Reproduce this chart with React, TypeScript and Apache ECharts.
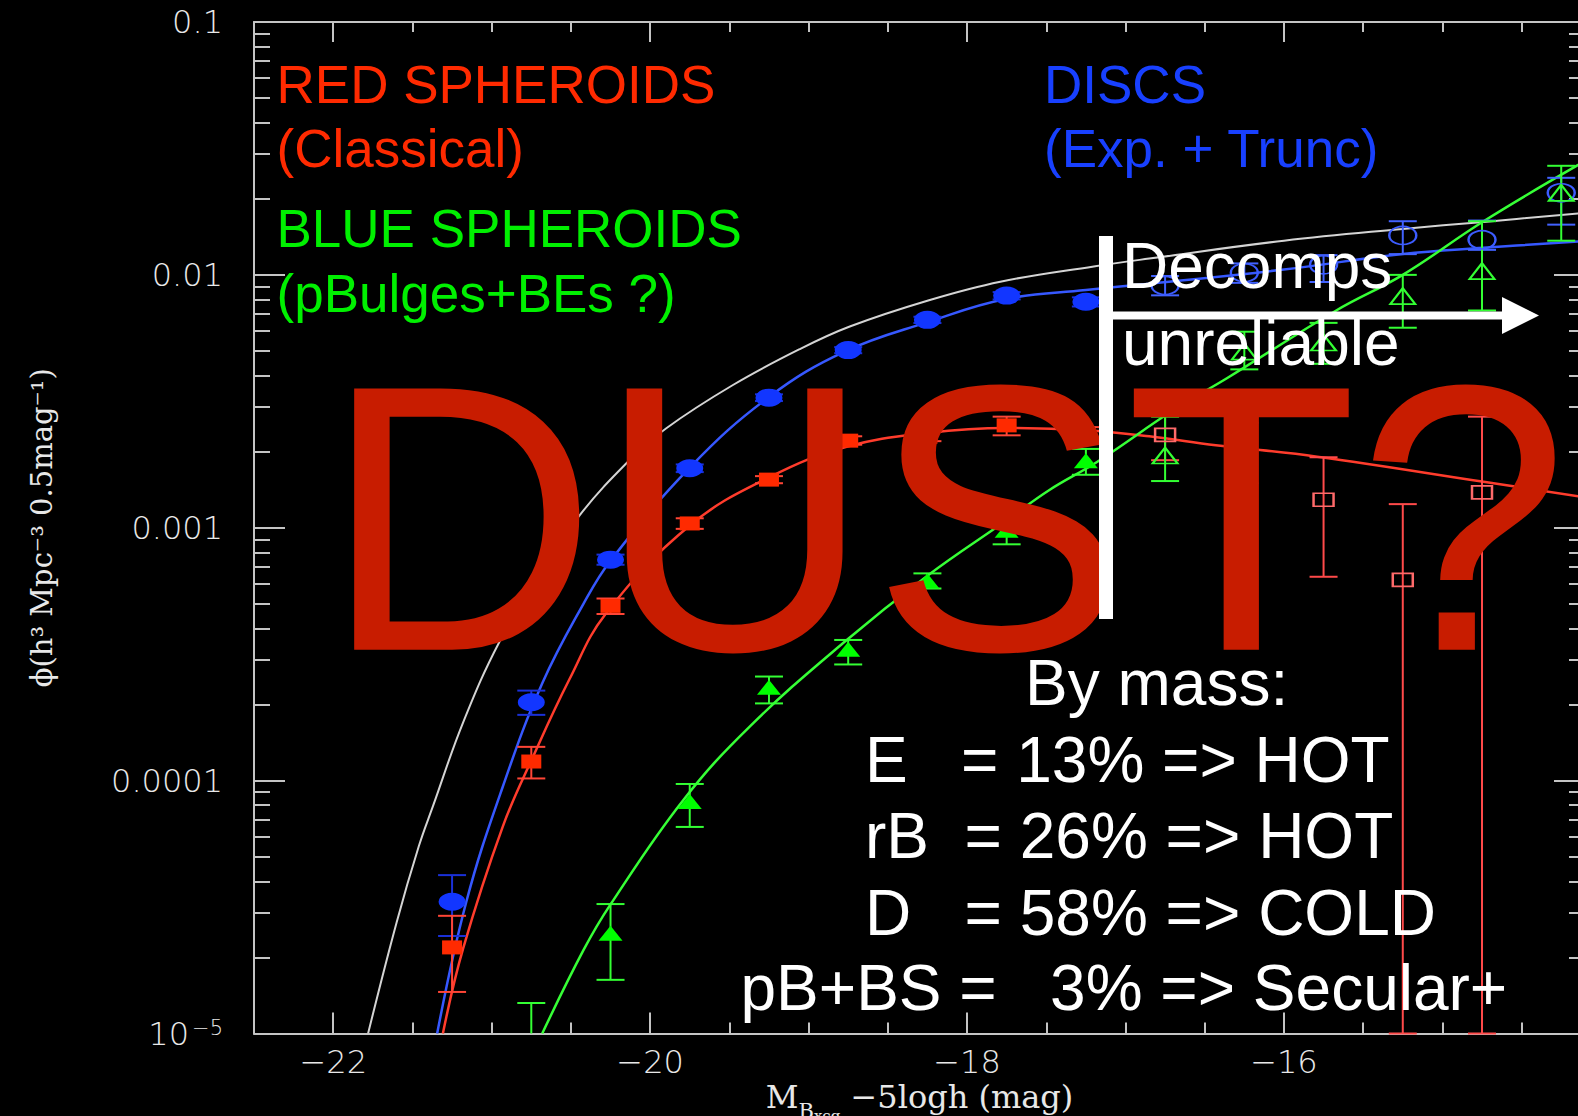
import React, { useEffect, useRef } from 'react';
import * as echarts from 'echarts';

// ---------- data ----------
const magBins = [-21.25, -20.75, -20.25, -19.75, -19.25, -18.75, -18.25, -17.75, -17.25, -16.75, -16.25, -15.75, -15.25, -14.75, -14.25];
const reliableCount = 9; // bins brighter than the "Decomps unreliable" limit

// DISCS (blue)
const discPhi = [3.32e-5, 2.04e-4, 7.48e-4, 1.72e-3, 3.27e-3, 5.04e-3, 6.64e-3, 8.28e-3, 7.83e-3, 9.08e-3, 1.02e-2, 1.096e-2, 1.432e-2, 1.377e-2, 2.11e-2];
const discLo = [2.43e-5, 1.82e-4, 7.14e-4, 1.66e-3, 3.17e-3, 4.9e-3, 6.45e-3, 8.0e-3, 7.5e-3, 8.3e-3, 9.3e-3, 9.37e-3, 1.208e-2, 1.256e-2, 1.58e-2];
const discHi = [4.23e-5, 2.27e-4, 7.83e-4, 1.78e-3, 3.37e-3, 5.18e-3, 6.83e-3, 8.55e-3, 8.15e-3, 9.9e-3, 1.11e-2, 1.197e-2, 1.63e-2, 1.64e-2, 2.42e-2];

// RED SPHEROIDS (classical)
const redPhi = [2.19e-5, 1.19e-4, 4.91e-4, 1.04e-3, 1.55e-3, 2.21e-3, 2.29e-3, 2.54e-3, 2.32e-3, 2.33e-3, 2.05e-3, 1.29e-3, 6.22e-4, 1.38e-3, null];
const redLo = [1.46e-5, 1.02e-4, 4.56e-4, 9.9e-4, 1.5e-3, 2.13e-3, 2.2e-3, 2.32e-3, 2.15e-3, 1.85e-3, 1.5e-3, 6.4e-4, 1e-5, 1e-5, null];
const redHi = [2.92e-5, 1.36e-4, 5.25e-4, 1.09e-3, 1.6e-3, 2.3e-3, 2.39e-3, 2.75e-3, 2.5e-3, 2.77e-3, 2.6e-3, 1.9e-3, 1.24e-3, 2.75e-3, null];

// BLUE SPHEROIDS (green)
const greenPhi = [null, 7e-6, 2.49e-5, 8.26e-5, 2.34e-4, 3.31e-4, 6.16e-4, 9.77e-4, 1.84e-3, 1.93e-3, 4.97e-3, 5.4e-3, 8.24e-3, 1.035e-2, 2.11e-2];
const greenLo = [null, 3e-6, 1.63e-5, 6.56e-5, 2.02e-4, 2.88e-4, 5.75e-4, 8.6e-4, 1.62e-3, 1.53e-3, 4.23e-3, 4.45e-3, 6.18e-3, 7.23e-3, 1.365e-2];
const greenHi = [null, 1.32e-5, 3.25e-5, 9.7e-5, 2.58e-4, 3.6e-4, 6.6e-4, 1.09e-3, 2.05e-3, 2.75e-3, 5.96e-3, 6.46e-3, 1.0e-2, 1.63e-2, 2.7e-2];

// fitted curves, read point by point
const totalFitMag = [-21.78, -21.6, -21.46, -21.37, -21.18, -20.95, -20.7, -20.45, -20.13, -19.9, -19.48, -19.06, -18.74, -18.24, -17.79, -17.2, -16.85, -16.0, -15.25, -14.74, -14.1];
const totalFitPhi = [1.0e-5, 2.75e-5, 5.5e-5, 7.94e-5, 1.7e-4, 3.55e-4, 6.46e-4, 1.11e-3, 1.85e-3, 2.47e-3, 3.66e-3, 5.07e-3, 6.25e-3, 7.94e-3, 9.4e-3, 1.08e-2, 1.16e-2, 1.365e-2, 1.52e-2, 1.62e-2, 1.76e-2];

const discFitMag = [-21.344, -21.16, -20.93, -20.68, -20.42, -20.25, -19.75, -19.25, -18.77, -18.25, -17.75, -17.25, -16.85, -16.0, -15.25, -14.74, -14.1];
const discFitPhi = [1.0e-5, 3.32e-5, 9.46e-5, 2.43e-4, 5.01e-4, 7.41e-4, 1.73e-3, 3.29e-3, 4.98e-3, 6.5e-3, 8.04e-3, 8.71e-3, 9.23e-3, 1.05e-2, 1.21e-2, 1.28e-2, 1.36e-2];

const redFitMag = [-21.308, -21.18, -20.93, -20.74, -20.51, -20.28, -19.75, -19.25, -18.76, -18.25, -17.75, -17.25, -16.85, -16.43, -15.79, -14.74, -14.1];
const redFitPhi = [1.0e-5, 2.17e-5, 6.58e-5, 1.24e-4, 2.51e-4, 4.57e-4, 1.02e-3, 1.58e-3, 2.09e-3, 2.37e-3, 2.48e-3, 2.43e-3, 2.3e-3, 2.12e-3, 1.91e-3, 1.52e-3, 1.32e-3];

const greenFitMag = [-20.681, -20.42, -20.25, -19.79, -19.37, -18.78, -18.25, -17.75, -17.48, -17.18, -16.69, -16.36, -15.67, -15.25, -14.74, -14.1];
const greenFitPhi = [1.0e-5, 2.14e-5, 3.24e-5, 8.39e-5, 1.64e-4, 3.51e-4, 6.46e-4, 1.07e-3, 1.41e-3, 1.82e-3, 2.94e-3, 3.9e-3, 7.23e-3, 1.0e-2, 1.63e-2, 2.82e-2];

// axes
const xMajorTicks = [-22, -20, -18, -16];
const xMajorLabels = ['−22', '−20', '−18', '−16'];
const xMinorTicks = [-22, -21.5, -21, -20.5, -20, -19.5, -19, -18.5, -18, -17.5, -17, -16.5, -16, -15.5, -15, -14.5];
const yDecadeLabels = ['{b|10}{s|−5}', '0.0001', '0.001', '0.01', '0.1'];
const yDecades = [-5, -4, -3, -2];
const yMinorMultipliers = [2, 3, 4, 5, 6, 7, 8, 9];

// ---------- helpers ----------
const pts = (mags: number[], vals: (number | null)[], from: number, to: number) =>
  mags.map((m, i) => [m, vals[i]]).slice(from, to).filter((p) => p[1] != null);

const bars = (mags: number[], lo: (number | null)[], hi: (number | null)[], from: number, to: number) =>
  mags.map((m, i) => [m, lo[i], hi[i]]).slice(from, to).filter((p) => p[1] != null);

const curve = (mags: number[], vals: number[]) => mags.map((m, i) => [m, vals[i]]);

const errRender = (color: string) => (params: any, api: any) => {
  const x = api.value(0);
  const lo = api.value(1);
  const hi = api.value(2);
  const cs = params.coordSys;
  const pT = api.coord([x, hi]);
  const pB = api.coord([x, lo]);
  const yMin = cs.y;
  const yMax = cs.y + cs.height;
  const top = Math.max(pT[1], yMin);
  const bot = Math.min(pB[1], yMax);
  const half = 14;
  const st = { stroke: color, lineWidth: 2 };
  const children: any[] = [
    { type: 'line', shape: { x1: pT[0], y1: top, x2: pT[0], y2: bot }, style: st },
  ];
  if (pT[1] >= yMin) children.push({ type: 'line', shape: { x1: pT[0] - half, y1: pT[1], x2: pT[0] + half, y2: pT[1] }, style: st });
  if (pB[1] <= yMax) children.push({ type: 'line', shape: { x1: pB[0] - half, y1: pB[1], x2: pB[0] + half, y2: pB[1] }, style: st });
  return { type: 'group', children };
};

const SANS = '"Liberation Sans", Arial, sans-serif';
const txt = (text: string, x: number, baseline: number, fs: number, color: string, z = 60) => ({
  type: 'text',
  z,
  style: {
    text,
    x,
    y: baseline - 0.3465 * fs,
    fill: color,
    font: `${fs}px ${SANS}`,
    textAlign: 'left',
    textVerticalAlign: 'middle',
    align: 'left',
    verticalAlign: 'middle',
  },
});

export default function App() {
  const ref = useRef<HTMLDivElement>(null);

  useEffect(() => {
    document.body.style.margin = '0';
    document.body.style.background = '#000';
    const chart = echarts.init(ref.current!, null, { renderer: 'svg' });

    const axisGray = '#c4c4c4';
    const labelColor = '#e8e8e8';
    const lineSt = { color: axisGray, width: 2 };
    const tickFont = '"DejaVu Sans", sans-serif';

    const yMinorLog: number[] = [];
    yDecades.forEach((d) => yMinorMultipliers.forEach((k) => yMinorLog.push(d + Math.log10(k))));

    const xBase = { type: 'value', min: -22.5, max: -14.1, splitLine: { show: false } };
    const yLogBase = { type: 'log', logBase: 10, min: 1e-5, max: 0.1, splitLine: { show: false } };
    const yMinorBase = { type: 'value', min: -5, max: -1, splitLine: { show: false } };

    const serif = '"DejaVu Serif", "Liberation Serif", serif';
    const curveBase = { type: 'line', smooth: 0.4, symbol: 'none', clip: true, z: 2 };

    const option: any = {
      animation: false,
      backgroundColor: '#000',
      grid: { left: 254, top: 22, width: 1331, height: 1011.5, containLabel: false, outerBoundsMode: 'none' },
      xAxis: [
        {
          ...xBase,
          position: 'bottom',
          axisLine: { show: true, onZero: false, lineStyle: lineSt },
          axisTick: { show: true, inside: true, length: 21, customValues: xMajorTicks, lineStyle: lineSt },
          axisLabel: {
            show: true,
            customValues: xMajorTicks,
            formatter: (v: number) => xMajorLabels[xMajorTicks.indexOf(v)] ?? '',
            margin: 12,
            color: labelColor,
            fontFamily: tickFont,
            fontWeight: 200,
            fontSize: 32,
          },
          name: '{m|M}{s1|B}{s2|xcg}{m| −5logh (mag)}',
          nameLocation: 'middle',
          nameGap: 47,
          nameMoveOverlap: false,
          nameTextStyle: {
            color: labelColor,
            fontFamily: serif,
            fontSize: 32,
            rich: {
              m: { color: labelColor, fontFamily: serif, fontSize: 32, verticalAlign: 'top' },
              s1: { color: labelColor, fontFamily: serif, fontSize: 21, verticalAlign: 'top', padding: [20, 0, 0, 0] },
              s2: { color: labelColor, fontFamily: serif, fontSize: 15, verticalAlign: 'top', padding: [28, 0, 0, 0] },
            },
          },
        },
        {
          ...xBase,
          position: 'bottom',
          axisLine: { show: false, onZero: false },
          axisTick: { show: true, inside: true, length: 11, customValues: xMinorTicks, lineStyle: lineSt },
          axisLabel: { show: false },
        },
        {
          ...xBase,
          position: 'top',
          axisLine: { show: true, onZero: false, lineStyle: lineSt },
          axisTick: { show: true, inside: true, length: 20, customValues: xMajorTicks, lineStyle: lineSt },
          axisLabel: { show: false },
        },
        {
          ...xBase,
          position: 'top',
          axisLine: { show: false, onZero: false },
          axisTick: { show: true, inside: true, length: 10, customValues: xMinorTicks, lineStyle: lineSt },
          axisLabel: { show: false },
        },
      ],
      yAxis: [
        {
          ...yLogBase,
          position: 'left',
          axisLine: { show: true, onZero: false, lineStyle: lineSt },
          axisTick: { show: true, inside: true, length: 31, lineStyle: lineSt },
          axisLabel: {
            show: true,
            showMinLabel: true,
            showMaxLabel: true,
            formatter: (v: number) => yDecadeLabels[Math.round(Math.log10(v)) + 5] ?? '',
            margin: 31,
            color: labelColor,
            fontFamily: tickFont,
            fontWeight: 200,
            fontSize: 32,
            rich: {
              b: { color: labelColor, fontFamily: tickFont, fontWeight: 200, fontSize: 32, verticalAlign: 'top' },
              s: { color: labelColor, fontFamily: tickFont, fontWeight: 200, fontSize: 21, verticalAlign: 'top', padding: [0, 0, 0, 3] },
            },
          },
          name: 'ϕ(h³ Mpc⁻³ 0.5mag⁻¹)',
          nameLocation: 'middle',
          nameRotate: 90,
          nameGap: 198,
          nameMoveOverlap: false,
          nameTextStyle: { color: labelColor, fontFamily: serif, fontSize: 29 },
        },
        {
          ...yMinorBase,
          position: 'left',
          axisLine: { show: false, onZero: false },
          axisTick: { show: true, inside: true, length: 16, customValues: yMinorLog, lineStyle: lineSt },
          axisLabel: { show: false },
        },
        {
          ...yLogBase,
          position: 'right',
          axisLine: { show: true, onZero: false, lineStyle: lineSt },
          axisTick: { show: true, inside: true, length: 31, lineStyle: lineSt },
          axisLabel: { show: false },
        },
        {
          ...yMinorBase,
          position: 'right',
          axisLine: { show: false, onZero: false },
          axisTick: { show: true, inside: true, length: 16, customValues: yMinorLog, lineStyle: lineSt },
          axisLabel: { show: false },
        },
      ],
      series: [
        // fitted curves
        { ...curveBase, name: 'total fit', data: curve(totalFitMag, totalFitPhi), lineStyle: { color: '#d4d4d4', width: 2 } },
        { ...curveBase, name: 'disc fit', data: curve(discFitMag, discFitPhi), lineStyle: { color: '#3658ff', width: 2.5 } },
        { ...curveBase, name: 'red fit', data: curve(redFitMag, redFitPhi), lineStyle: { color: '#ff3c2c', width: 2.5 } },
        { ...curveBase, name: 'green fit', data: curve(greenFitMag, greenFitPhi), lineStyle: { color: '#36ff36', width: 2.5 } },
        // error bars
        { type: 'custom', name: 'disc err', data: bars(magBins, discLo, discHi, 0, reliableCount), renderItem: errRender('#1a30d8'), z: 3 },
        { type: 'custom', name: 'disc err open', data: bars(magBins, discLo, discHi, reliableCount, magBins.length), renderItem: errRender('#4262ff'), z: 3 },
        { type: 'custom', name: 'red err', data: bars(magBins, redLo, redHi, 0, reliableCount), renderItem: errRender('#ff4536'), z: 3 },
        { type: 'custom', name: 'red err open', data: bars(magBins, redLo, redHi, reliableCount, magBins.length), renderItem: errRender('#ff4a4a'), z: 3 },
        { type: 'custom', name: 'green err', data: bars(magBins, greenLo, greenHi, 0, reliableCount), renderItem: errRender('#33ff33'), z: 3 },
        { type: 'custom', name: 'green err open', data: bars(magBins, greenLo, greenHi, reliableCount, magBins.length), renderItem: errRender('#33ff33'), z: 3 },
        // points
        { type: 'scatter', name: 'discs', data: pts(magBins, discPhi, 0, reliableCount), symbol: 'circle', symbolSize: [27, 18], clip: true, z: 4, itemStyle: { color: '#1236ff', opacity: 1 } },
        { type: 'scatter', name: 'discs open', data: pts(magBins, discPhi, reliableCount, magBins.length), symbol: 'circle', symbolSize: [27, 18], clip: true, z: 4, itemStyle: { color: 'rgba(0,0,0,0)', borderColor: '#3c5cff', borderWidth: 2, opacity: 1 } },
        { type: 'scatter', name: 'red', data: pts(magBins, redPhi, 0, reliableCount), symbol: 'rect', symbolSize: [20, 14], clip: true, z: 4, itemStyle: { color: '#ff2a00', opacity: 1 } },
        { type: 'scatter', name: 'red open', data: pts(magBins, redPhi, reliableCount, magBins.length), symbol: 'rect', symbolSize: [20, 13], clip: true, z: 4, itemStyle: { color: 'rgba(0,0,0,0)', borderColor: '#ff6a6a', borderWidth: 2, opacity: 1 } },
        { type: 'scatter', name: 'green', data: pts(magBins, greenPhi, 0, reliableCount), symbol: 'triangle', symbolSize: [24, 15], clip: true, z: 4, itemStyle: { color: '#00ff00', opacity: 1 } },
        { type: 'scatter', name: 'green open', data: pts(magBins, greenPhi, reliableCount, magBins.length), symbol: 'triangle', symbolSize: [25, 16], clip: true, z: 4, itemStyle: { color: 'rgba(0,0,0,0)', borderColor: '#33ff33', borderWidth: 2, opacity: 1 } },
      ],
      graphic: {
        elements: [
          txt('RED SPHEROIDS', 276.5, 102.7, 53, '#ff2a00', 40),
          txt('(Classical)', 276.5, 166.7, 53, '#ff2a00', 40),
          txt('BLUE SPHEROIDS', 276.5, 246.7, 53, '#00f000', 40),
          txt('(pBulges+BEs ?)', 276.5, 311.7, 53, '#00f000', 40),
          txt('DISCS', 1044, 102.7, 53, '#1840ff', 40),
          txt('(Exp. + Trunc)', 1044, 166.7, 53, '#1840ff', 40),
          txt('DUST?', 323, 650, 380, '#c81c00', 50),
          { type: 'rect', z: 60, shape: { x: 1099, y: 236, width: 14, height: 383 }, style: { fill: '#ffffff' } },
          { type: 'rect', z: 60, shape: { x: 1106, y: 311.5, width: 398, height: 8 }, style: { fill: '#ffffff' } },
          { type: 'polygon', z: 60, shape: { points: [[1502, 297], [1539, 315.5], [1502, 334]] }, style: { fill: '#ffffff' } },
          txt('Decomps', 1122, 288, 64, '#ffffff'),
          txt('unreliable', 1122, 365, 64, '#ffffff'),
          txt('By mass:', 1025, 705, 64, '#ffffff'),
          txt('E   = 13% => HOT', 865, 781.7, 64, '#ffffff'),
          txt('rB  = 26% => HOT', 865, 858, 64, '#ffffff'),
          txt('D   = 58% => COLD', 865, 935, 64, '#ffffff'),
          txt('pB+BS =   3% => Secular+', 740.5, 1010, 64, '#ffffff'),
        ],
      },
    };

    chart.setOption(option);
    return () => chart.dispose();
  }, []);

  return <div ref={ref} style={{ width: 1578, height: 1116, background: '#000' }} />;
}
